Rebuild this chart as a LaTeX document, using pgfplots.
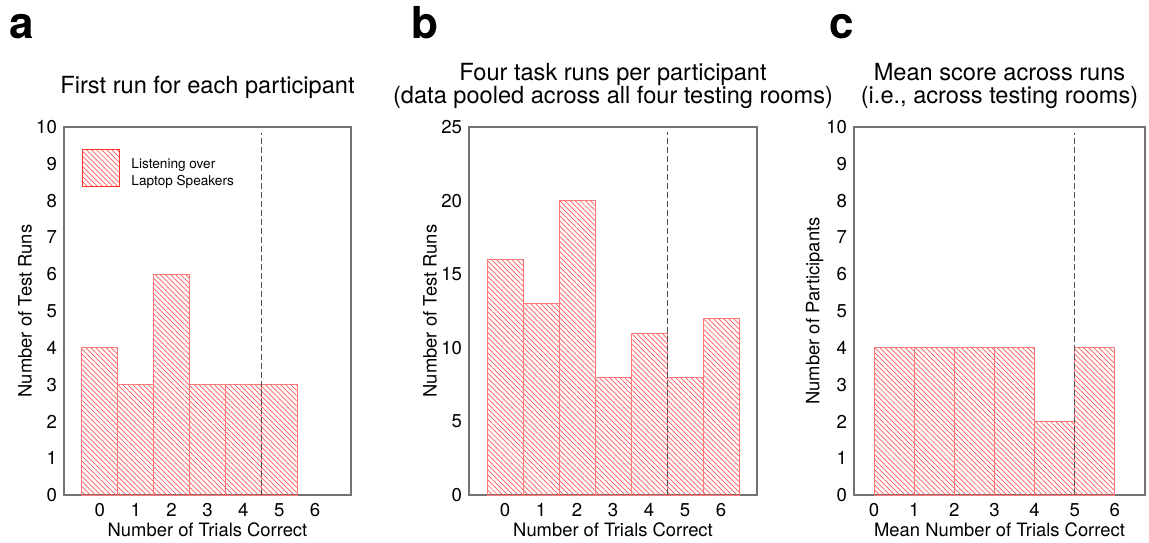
\documentclass[border=0pt]{standalone}
\usepackage{fontspec}
\setmainfont{TeX Gyre Heros}
\usepackage{pgfplots}
\pgfplotsset{compat=1.18}
\usetikzlibrary{patterns.meta}

\definecolor{barred}{RGB}{255,120,120}
\definecolor{hatchred}{RGB}{255,85,85}
\definecolor{legred}{RGB}{255,50,40}
\definecolor{axgray}{RGB}{115,115,115}
\definecolor{dashgray}{RGB}{80,80,80}

\pgfplotsset{
  hist/.style={
    scale only axis, height=184pt, anchor=south west,
    axis line style={axgray, line width=0.6pt},
    major tick length=0pt,
    tick style={draw=none},
    /pgf/number format/assume math mode=true,
    tick label style={font=\fontsize{9.3}{11}\selectfont},
    label style={font=\fontsize{9.2}{11}\selectfont},
    xlabel style={at={(rel axis cs:0.5,0)}, anchor=base, yshift=-20.5pt},
    ylabel style={at={(axis description cs:-0.1355,0.5)}, anchor=center},
    xticklabel style={yshift=-0.8pt},
    ymin=0, xtick={0,...,6},
  },
  hbar/.style={ybar, bar width=1, bar shift=0pt, draw=barred, line width=0.5pt,
    pattern={Lines[angle=-45,distance=1.8pt,line width=0.35pt]}, pattern color=hatchred},
  vline/.style={draw=dashgray, dash pattern=on 3pt off 1.5pt, line width=0.5pt},
}

\begin{document}
\begin{tikzpicture}
\path[use as bounding box] (0,0) rectangle (574.5pt,-271pt);

% Panel a
\begin{axis}[hist, name=pa, at={(32pt,-247.5pt)}, width=143.5pt,
  xmin=-1, xmax=7, ymax=10, ytick={0,...,10},
  xlabel={Number of Trials Correct}, ylabel={Number of Test Runs},
  legend style={at={(0.063,0.94)}, anchor=north west, draw=none, fill=none,
    font=\fontsize{6.8}{8.5}\selectfont, cells={align=left}, inner sep=0pt,
    /tikz/every odd column/.style={inner xsep=0pt}},
  ]
\addplot[hbar, legend image code/.code={\draw[draw=legred, line width=0.5pt,
    pattern={Lines[angle=-45,distance=1.8pt,line width=0.35pt]}, pattern color=hatchred]
    (0pt,-6.5pt) rectangle (18.5pt,12pt); \path (22pt,0pt) coordinate (legpad);}]
  coordinates {(0,4) (1,3) (2,6) (3,3) (4,3) (5,3)};
\addlegendentry{Listening over\\Laptop Speakers}
\addplot[vline, forget plot] coordinates {(4.5,0) (4.5,9.85)};
\end{axis}

% Panel b
\begin{axis}[hist, name=pb, at={(234.5pt,-247.5pt)}, width=144pt,
  xmin=-1, xmax=7, ymax=25, ytick={0,5,...,25},
  xlabel={Number of Trials Correct}, ylabel={Number of Test Runs}]
\addplot[hbar] coordinates {(0,16) (1,13) (2,20) (3,8) (4,11) (5,8) (6,12)};
\addplot[vline] coordinates {(4.5,0) (4.5,24.65)};
\end{axis}

% Panel c
\begin{axis}[hist, name=pc, at={(427pt,-247.5pt)}, width=145.5pt,
  xmin=-0.5, xmax=6.75, ymax=10, ytick={0,...,10},
  xlabel={Mean Number of Trials Correct}, ylabel={Number of Participants}]
\addplot[hbar] coordinates {(0.5,4) (1.5,4) (2.5,4) (3.5,4) (4.5,2) (5.5,4)};
\addplot[vline] coordinates {(5,0) (5,9.85)};
\end{axis}

% Titles
\begin{scope}[every node/.style={anchor=base, font=\fontsize{11.8}{14}\selectfont}]
\node at ([yshift=17pt]pa.north) {First run for each participant};
\node at ([yshift=23.5pt]pb.north) {Four task runs per participant};
\node at ([yshift=12pt]pb.north) {(data pooled across all four testing rooms)};
\node at ([yshift=23.5pt]pc.north) {Mean score across runs};
\node at ([yshift=12pt]pc.north) {(i.e., across testing rooms)};
\end{scope}

% Panel letters
\begin{scope}[every node/.style={anchor=base, font=\fontsize{22}{22}\bfseries\selectfont}]
\node at (11pt,-19pt) {a};
\node at (212.5pt,-19pt) {b};
\node at (421pt,-19pt) {c};
\end{scope}
\end{tikzpicture}
\end{document}
